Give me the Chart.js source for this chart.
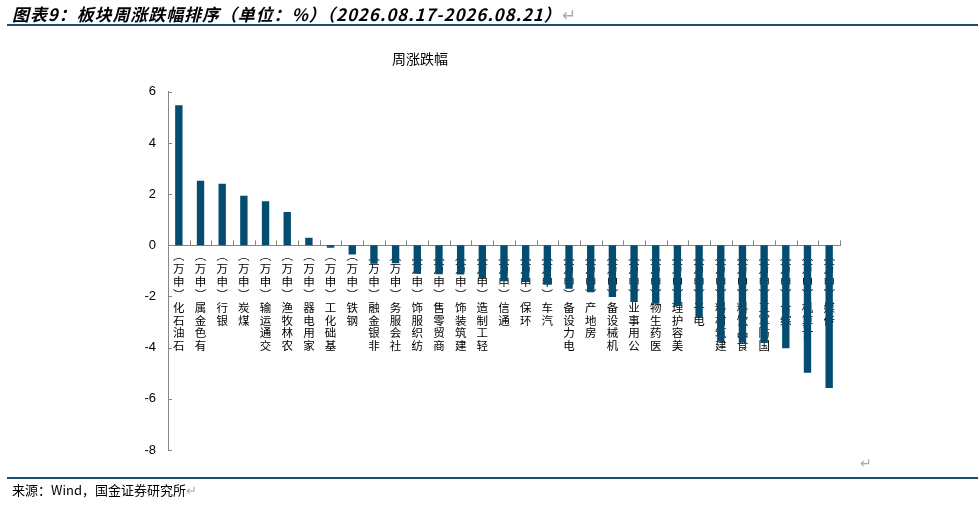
<!DOCTYPE html>
<html>
<head>
<meta charset="utf-8">
<script src="https://cdn.jsdelivr.net/npm/chart.js@4.4.1/dist/chart.umd.min.js"></script>
<style>
  html, body { margin: 0; padding: 0; background: #fff; }
  #wrap { position: relative; width: 978px; height: 507px; overflow: hidden; }
  #chart { position: absolute; left: 0; top: 0; }
  .head { position: absolute; left: 12px; top: 1px; font: italic bold 17px "Noto Sans CJK SC", sans-serif; letter-spacing: 0.9px; color: #000; white-space: nowrap; }
  .foot { position: absolute; left: 12px; top: 480px; font: 13px "Noto Sans CJK SC", sans-serif; color: #000; white-space: nowrap; }
  .mark { color: #aaa; font-weight: normal; font-style: normal; }
  .rule { position: absolute; left: 7px; right: 0; height: 2px; background: #1d4f6e; }
  .pmark { position: absolute; left: 860px; top: 452px; font: 14px "Noto Sans CJK SC", sans-serif; color: #aaa; }
</style>
</head>
<body>
<div id="wrap">
  <canvas id="chart" width="978" height="507"></canvas>
  <div class="head">图表9：板块周涨跌幅排序（单位：%）（2026.08.17-2026.08.21）<span class="mark">↵</span></div>
  <div class="rule" style="top:24px"></div>
  <div class="pmark">↵</div>
  <div class="rule" style="top:477px"></div>
  <div class="foot">来源：Wind，国金证券研究所<span class="mark">↵</span></div>
</div>
<script>
// industries (Shenwan level 1), sorted by weekly change
const industries = ['石油石化', '有色金属', '银行', '煤炭', '交通运输', '农林牧渔', '家用电器', '基础化工',
  '钢铁', '非银金融', '社会服务', '纺织服饰', '商贸零售', '建筑装饰', '轻工制造', '通信', '环保', '汽车',
  '电力设备', '房地产', '机械设备', '公用事业', '医药生物', '美容护理', '电子', '建筑材料', '食品饮料',
  '国防军工', '综合', '计算机', '传媒'];
const weeklyChange = [5.47, 2.52, 2.41, 1.94, 1.72, 1.30, 0.30, -0.10,
  -0.36, -0.72, -0.70, -1.11, -1.13, -1.14, -1.28, -1.40, -1.43, -1.54,
  -1.70, -1.83, -2.02, -2.22, -2.28, -2.37, -2.80, -3.76, -3.80,
  -3.82, -4.02, -4.98, -5.58];
const yTicks = [-8, -6, -4, -2, 0, 2, 4, 6];

// labels read bottom-to-top in the picture, so stack the characters reversed
function stackLabel(name) {
  const chars = (name + '︶申万︵').split('');
  return chars.reverse();
}
const labels = industries.map(stackLabel);

const axisGray = '#868686';

// small inner tick marks on both axes
const innerTicks = {
  id: 'innerTicks',
  afterDraw(chart) {
    const { ctx, scales: { x, y } } = chart;
    ctx.save();
    ctx.strokeStyle = axisGray;
    ctx.lineWidth = 1;
    ctx.beginPath();
    yTicks.forEach(v => {
      const py = Math.round(y.getPixelForValue(v)) + 0.5;
      ctx.moveTo(y.right, py);
      ctx.lineTo(y.right + 4, py);
    });
    const y0 = y.getPixelForValue(0);
    const step = x.width / industries.length;
    for (let i = 1; i <= industries.length; i++) {
      const px = Math.round(x.left + step * i) + 0.5;
      ctx.moveTo(px, y0);
      ctx.lineTo(px, y0 - 5);
    }
    ctx.stroke();
    ctx.restore();
  }
};

const ctx = document.getElementById('chart').getContext('2d');
new Chart(ctx, {
  type: 'bar',
  data: {
    labels: labels,
    datasets: [{
      label: '周涨跌幅',
      data: weeklyChange,
      backgroundColor: '#044d70',
      borderWidth: 0,
      barPercentage: 0.68,
      categoryPercentage: 0.5
    }]
  },
  options: {
    responsive: false,
    animation: false,
    layout: { padding: { left: 0, top: 50, right: 138, bottom: 57 } },
    plugins: {
      legend: { display: false },
      tooltip: { enabled: false },
      title: {
        display: true,
        text: '周涨跌幅',
        color: '#000',
        font: { family: '"Noto Sans CJK SC", sans-serif', size: 14, weight: 'normal' },
        padding: { top: 0, bottom: 25 }
      }
    },
    scales: {
      x: {
        position: { y: 0 },
        z: 1,
        grid: { display: false, drawTicks: false },
        border: { display: true, color: axisGray, width: 1 },
        ticks: {
          autoSkip: false,
          maxRotation: 0,
          minRotation: 0,
          padding: 4,
          color: '#000',
          font: { family: '"Noto Sans CJK SC", sans-serif', size: 11.5, lineHeight: 1.12 }
        }
      },
      y: {
        min: -8,
        max: 6,
        afterFit: s => { s.width = 168; },
        afterBuildTicks: s => { s.ticks = yTicks.map(v => ({ value: v })); },
        grid: { display: false, drawTicks: false },
        border: { display: true, color: axisGray, width: 1 },
        ticks: {
          padding: 12,
          color: '#000',
          font: { family: '"Liberation Sans", sans-serif', size: 13 }
        }
      }
    }
  },
  plugins: [innerTicks]
});
</script>
</body>
</html>
